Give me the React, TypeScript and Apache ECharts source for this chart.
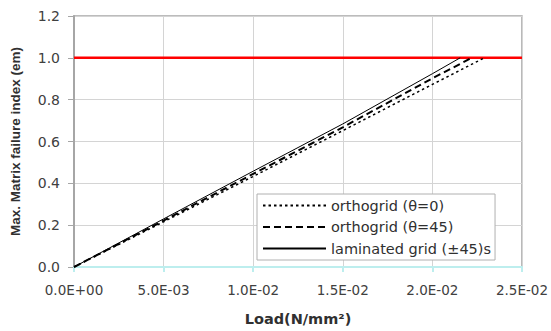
import React, { useEffect, useRef } from "react";
import * as echarts from "echarts";

const xTicks = [0, 0.005, 0.01, 0.015, 0.02, 0.025];
const yTicks = [0, 0.2, 0.4, 0.6, 0.8, 1.0, 1.2];

const seriesNames = ["orthogrid (θ=0)", "orthogrid (θ=45)", "laminated grid (±45)s"];

const orthoTheta0: [number, number][] = [
  [0, 0], [0.005, 0.216], [0.01, 0.433], [0.015, 0.652], [0.02, 0.873], [0.0229, 1.0],
];
const orthoTheta45: [number, number][] = [
  [0, 0], [0.005, 0.222], [0.01, 0.445], [0.015, 0.668], [0.02, 0.902], [0.0222, 1.0],
];
const laminated: [number, number][] = [
  [0, 0], [0.005, 0.23], [0.01, 0.458], [0.015, 0.684], [0.02, 0.924], [0.02155, 1.0],
];
const limitLine: [number, number][] = [
  [0, 1.0], [0.025, 1.0],
];

function fmtExp(v: number): string {
  if (v === 0) return "0.0E+00";
  const s = v.toExponential(1);
  const [m, e] = s.split("e");
  const sign = e[0] === "-" ? "-" : "+";
  const digits = e.replace(/[+-]/, "").padStart(2, "0");
  return `${m}E${sign}${digits}`;
}

export default function App() {
  const ref = useRef<HTMLDivElement>(null);
  useEffect(() => {
    if (!ref.current) return;
    const chart = echarts.init(ref.current, undefined, { renderer: "svg" });
    chart.setOption({
      animation: false,
      backgroundColor: "#ffffff",
      grid: {
        left: 73, right: 29, top: 16, bottom: 62,
        show: true, borderColor: "#a6a6a6", borderWidth: 1.5, backgroundColor: "transparent",
      },
      legend: {
        data: seriesNames,
        orient: "vertical",
        left: 257,
        top: 194,
        itemWidth: 63,
        itemHeight: 14,
        itemGap: 6.5,
        padding: [4, 4, 4, 5],
        backgroundColor: "#ffffff",
        borderColor: "#b0b0b0",
        borderWidth: 1,
        borderRadius: 0,
        itemStyle: { opacity: 0, borderWidth: 0 },
        textStyle: { fontFamily: "DejaVu Sans", fontSize: 14.5, color: "#303030" },
      },
      xAxis: {
        type: "value",
        min: 0,
        max: 0.025,
        interval: 0.005,
        name: "Load(N/mm²)",
        nameLocation: "middle",
        nameGap: 44,
        nameTextStyle: { fontFamily: "DejaVu Sans", fontWeight: "bold", fontSize: 14.5, color: "#303030" },
        axisLine: { show: true, lineStyle: { color: "#bdeeee", width: 2 } },
        axisTick: { show: true, length: 5, lineStyle: { color: "#bdeeee", width: 2 } },
        axisLabel: {
          formatter: (v: number) => fmtExp(v),
          fontFamily: "DejaVu Sans", fontSize: 13.5, color: "#404040", margin: 16,
        },
        splitLine: { show: true, lineStyle: { color: "#d4d4d4", width: 1 } },
      },
      yAxis: {
        type: "value",
        min: 0,
        max: 1.2,
        interval: 0.2,
        name: "Max. Matrix failure index (em)",
        nameLocation: "middle",
        nameGap: 52,
        nameTextStyle: { fontFamily: "Liberation Sans", fontWeight: "bold", fontSize: 13.5, color: "#303030" },
        axisLine: { show: true, onZero: false, lineStyle: { color: "#a6a6a6", width: 2 } },
        axisTick: { show: true, length: 6, lineStyle: { color: "#a6a6a6", width: 1 } },
        axisLabel: {
          formatter: (v: number) => v.toFixed(1),
          fontFamily: "DejaVu Sans", fontSize: 14, color: "#404040", margin: 14,
        },
        splitLine: { show: true, lineStyle: { color: "#d4d4d4", width: 1 } },
      },
      series: [
        {
          name: "limit",
          type: "line",
          data: limitLine,
          symbol: "none",
          lineStyle: { color: "#ff0000", width: 2.5 },
          itemStyle: { color: "#ff0000" },
          z: 1,
        },
        {
          name: seriesNames[0],
          type: "line",
          data: orthoTheta0,
          symbol: "none",
          lineStyle: { color: "#000000", width: 1.5, type: [2.5, 3] },
          itemStyle: { color: "#000000" },
          z: 3,
        },
        {
          name: seriesNames[1],
          type: "line",
          data: orthoTheta45,
          symbol: "none",
          lineStyle: { color: "#000000", width: 2, type: [7, 4] },
          itemStyle: { color: "#000000" },
          z: 3,
        },
        {
          name: seriesNames[2],
          type: "line",
          data: laminated,
          symbol: "none",
          lineStyle: { color: "#000000", width: 1 },
          itemStyle: { color: "#000000" },
          z: 3,
        },
      ],
    });
    return () => chart.dispose();
  }, []);
  return <div ref={ref} style={{ width: 551, height: 331, position: "absolute", left: 0, top: 0 }} />;
}
